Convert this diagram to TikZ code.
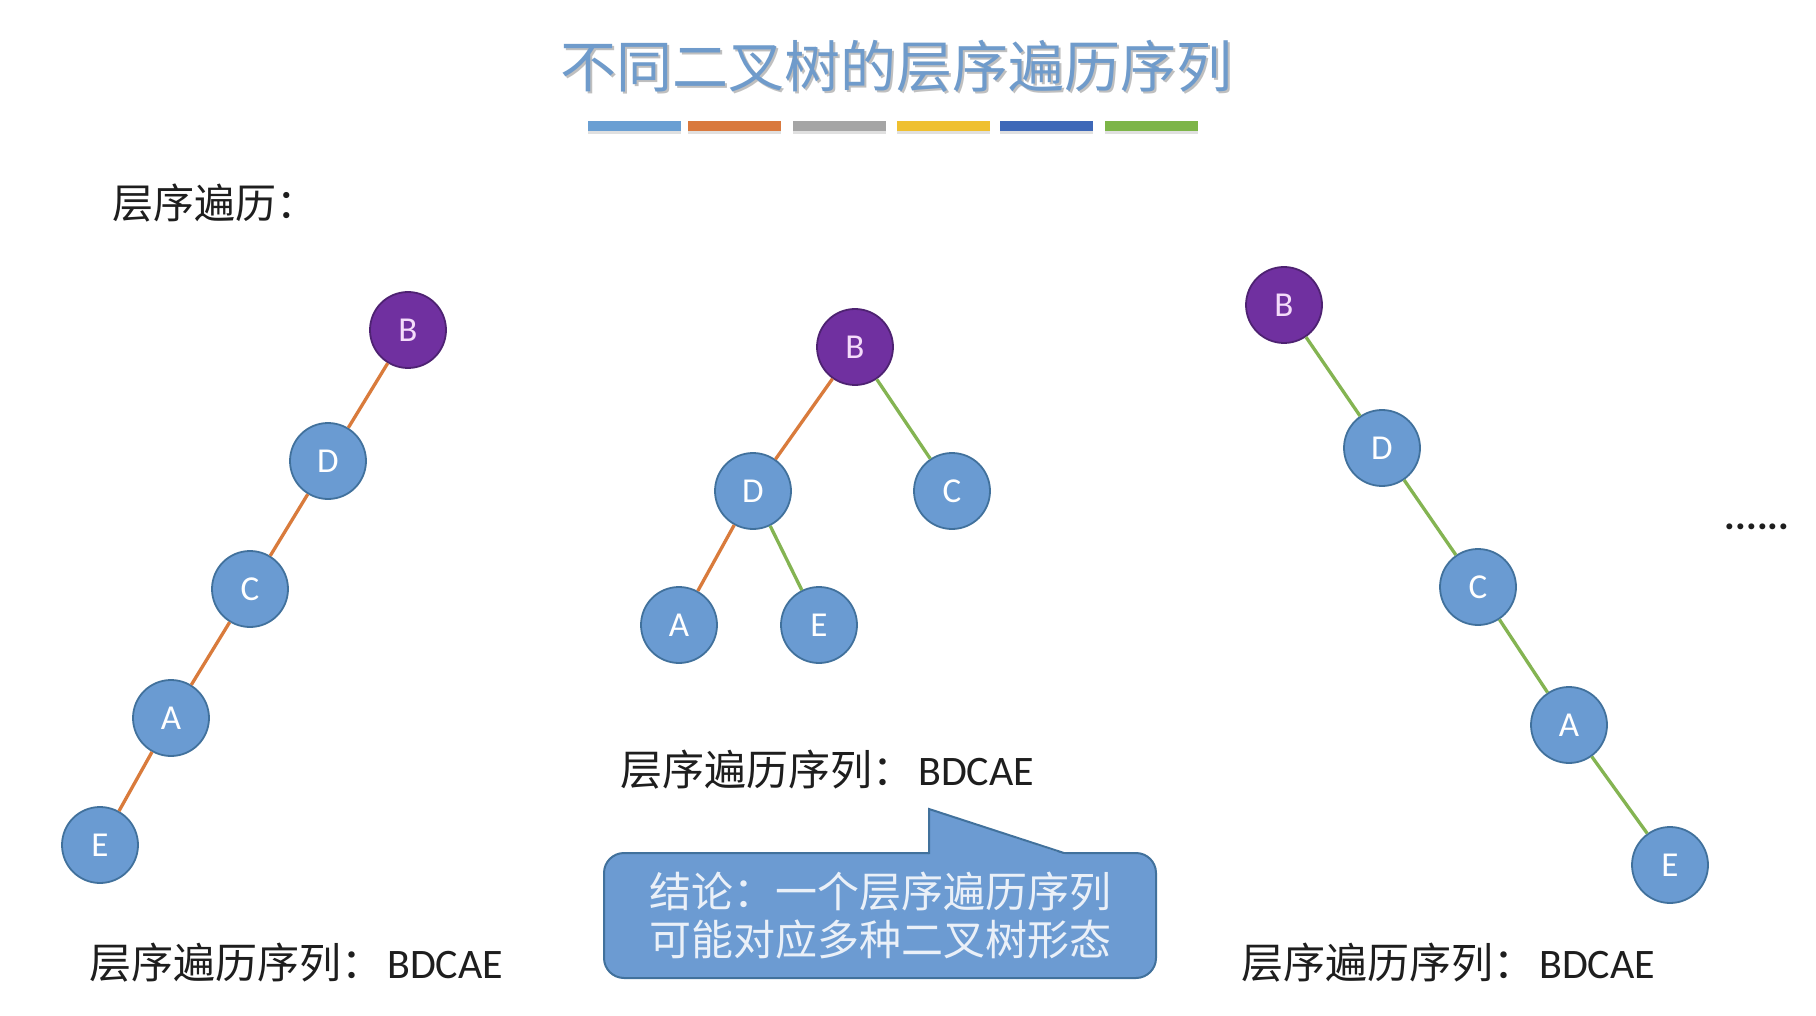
\documentclass[tikz,border=0pt]{standalone}
\usepackage{fontspec}
\setmainfont{Carlito}
\newfontfamily\cjk{Noto Sans CJK SC}
\definecolor{nodeblue}{HTML}{6A9BD2}
\definecolor{nodeborder}{HTML}{41719C}
\definecolor{rootpurple}{HTML}{7030A0}
\definecolor{rootborder}{HTML}{4E2272}
\definecolor{rootletter}{HTML}{F4DCFA}
\definecolor{edgeorange}{HTML}{D97B3C}
\definecolor{edgegreen}{HTML}{84B452}
\definecolor{titleblue}{HTML}{6F9BCB}
\definecolor{barA}{HTML}{6A9FD3}
\definecolor{barB}{HTML}{D9793E}
\definecolor{barC}{HTML}{A5A5A5}
\definecolor{barD}{HTML}{EFC030}
\definecolor{barE}{HTML}{3E68B8}
\definecolor{barF}{HTML}{7DB548}
\definecolor{callfill}{HTML}{6C9BD2}
\definecolor{calltext}{HTML}{EAF0F8}
\definecolor{inktext}{HTML}{1E1E1E}
\begin{document}
\begin{tikzpicture}[x=1pt,y=-1pt,
  tnode/.style={circle, minimum size=76pt, inner sep=0pt, fill=nodeblue, draw=nodeborder,
    line width=1.8pt, text=white, font=\fontsize{35}{35}\selectfont},
  rootnode/.style={tnode, fill=rootpurple, draw=rootborder, text=rootletter},
  oedge/.style={draw=edgeorange, line width=3.3pt},
  gedge/.style={draw=edgegreen, line width=3.3pt},
  seqtext/.style={anchor=west, inner sep=0pt, text=inktext, font=\fontsize{42}{42}\selectfont},
  colorbar/.style={inner sep=0pt, minimum height=10pt, minimum width=93pt},
  barshadow/.style={fill=black, opacity=0.12}
]
\useasboundingbox (0,0) rectangle (1816,1016);
\fill[white] (0,0) rectangle (1816,1016);

% title
\node[inner sep=0pt, text=black!25, font=\cjk\fontsize{56}{56}\selectfont] (titleshadow) at (898,68) {不同二叉树的层序遍历序列};
\node[inner sep=0pt, text=titleblue, font=\cjk\fontsize{56}{56}\selectfont] (title) at (896,66) {不同二叉树的层序遍历序列};

% colour bars
\foreach \x/\c [count=\i] in {634/barA,734.5/barB,839.5/barC,943/barD,1046/barE,1151/barF}{
  \fill[barshadow] (\x-46.5,123) rectangle (\x+46.5,134);
  \node[colorbar, fill=\c] (bar\i) at (\x,126) {};
}

% heading
\node[anchor=west, inner sep=0pt, text=inktext, font=\cjk\fontsize{41}{41}\selectfont] (heading) at (112,203) {层序遍历：};

% tree 1
\node[rootnode] (b1) at (408,330) {B};
\node[tnode] (d1) at (328,461) {D};
\node[tnode] (c1) at (250,589) {C};
\node[tnode] (a1) at (171,718) {A};
\node[tnode] (e1) at (100,845) {E};
\draw[oedge] (b1) -- (d1);
\draw[oedge] (d1) -- (c1);
\draw[oedge] (c1) -- (a1);
\draw[oedge] (a1) -- (e1);

% tree 2
\node[rootnode] (b2) at (855,347) {B};
\node[tnode] (d2) at (753,491) {D};
\node[tnode] (c2) at (952,491) {C};
\node[tnode] (a2) at (679,625) {A};
\node[tnode] (e2) at (819,625) {E};
\draw[oedge] (b2) -- (d2);
\draw[gedge] (b2) -- (c2);
\draw[oedge] (d2) -- (a2);
\draw[gedge] (d2) -- (e2);

% tree 3
\node[rootnode] (b3) at (1284,305) {B};
\node[tnode] (d3) at (1382,448) {D};
\node[tnode] (c3) at (1478,587) {C};
\node[tnode] (a3) at (1569,725) {A};
\node[tnode] (e3) at (1670,865) {E};
\draw[gedge] (b3) -- (d3);
\draw[gedge] (d3) -- (c3);
\draw[gedge] (c3) -- (a3);
\draw[gedge] (a3) -- (e3);

\node[inner sep=0pt, text=inktext, font=\bfseries\fontsize{40}{40}\selectfont] (dots) at (1757,527) {......};

% sequences
\node[seqtext] (seq1) at (89,963) {{\cjk 层序遍历序列：}\hspace{4pt}BDCAE};
\node[seqtext] (seq2) at (620,770) {{\cjk 层序遍历序列：}\hspace{4pt}BDCAE};
\node[seqtext] (seq3) at (1241,963) {{\cjk 层序遍历序列：}\hspace{4pt}BDCAE};

% callout
\node[draw=nodeborder, line width=2pt, fill=callfill, rounded corners=20pt,
  minimum width=552pt, minimum height=125pt, inner sep=0pt,
  text=calltext, align=left, font=\cjk\fontsize{42}{47.5}\selectfont] (callout) at (880,915.5)
  {结论：一个层序遍历序列\\可能对应多种二叉树形态};
\coordinate (ptop) at (929,809);
\coordinate (pleft) at (929,853);
\coordinate (pright) at (1063,853);
\fill[callfill] ([yshift=-2pt]pleft) -- (ptop) -- ([xshift=4pt,yshift=-2pt]pright) -- cycle;
\draw[nodeborder, line width=2pt] ([yshift=-1pt]pleft) -- (ptop) -- ([xshift=1pt]pright);
\end{tikzpicture}
\end{document}
